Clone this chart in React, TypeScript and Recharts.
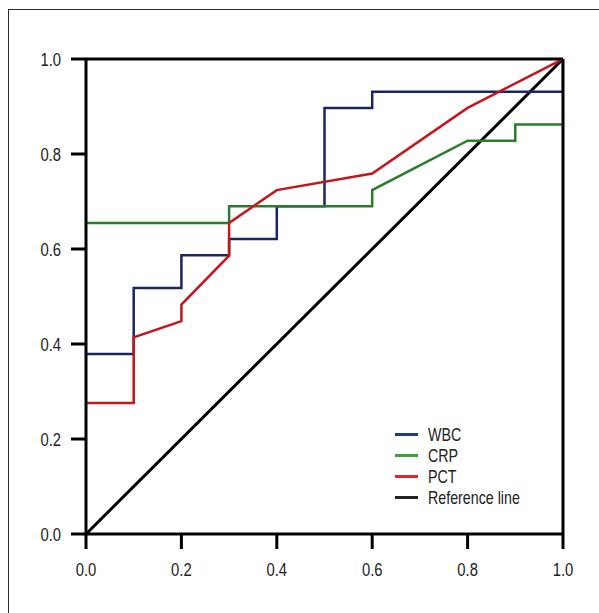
import { ComposedChart, Line, XAxis, YAxis, ReferenceLine } from 'recharts';

// ROC curves (1 - specificity on x, sensitivity on y)
const wbcX = [0, 0.1, 0.1, 0.2, 0.2, 0.3, 0.3, 0.4, 0.4, 0.5, 0.5, 0.6, 0.6, 1.0, 1.0];
const wbcY = [0.379, 0.379, 0.518, 0.518, 0.587, 0.587, 0.621, 0.621, 0.69, 0.69, 0.897, 0.897, 0.931, 0.931, 1.0];

const crpX = [0, 0.3, 0.3, 0.6, 0.6, 0.8, 0.9, 0.9, 1.0];
const crpY = [0.655, 0.655, 0.69, 0.69, 0.724, 0.828, 0.828, 0.862, 0.862];

const pctX = [0, 0.1, 0.1, 0.2, 0.2, 0.3, 0.3, 0.4, 0.6, 0.8, 1.0];
const pctY = [0.276, 0.276, 0.414, 0.448, 0.483, 0.586, 0.655, 0.724, 0.759, 0.897, 1.0];

const refX = [0, 1];
const refY = [0, 1];

const ticks = [0, 0.2, 0.4, 0.6, 0.8, 1.0];

const legendItems = [
  { name: 'WBC', color: '#1e3f73' },
  { name: 'CRP', color: '#3f9f3f' },
  { name: 'PCT', color: '#e8222a' },
  { name: 'Reference line', color: '#222' },
];

const toPoints = (xs: number[], ys: number[]) => xs.map((x, i) => ({ x, y: ys[i] }));

// no condensed font installed, so squeeze Liberation Sans horizontally
const FONT = "'Liberation Sans', Arial, sans-serif";

const XTick = (props: any) => {
  const { x, y, payload } = props;
  return (
    <text
      transform={`translate(${x},${y + 19}) scale(0.78,1)`}
      textAnchor="middle"
      fill="#222"
      fontSize={19}
      fontFamily={FONT}
    >
      {Number(payload.value).toFixed(1)}
    </text>
  );
};

const YTick = (props: any) => {
  const { x, y, payload } = props;
  return (
    <text
      transform={`translate(${x},${y + 7}) scale(0.78,1)`}
      textAnchor="end"
      fill="#222"
      fontSize={19}
      fontFamily={FONT}
    >
      {Number(payload.value).toFixed(1)}
    </text>
  );
};

const renderLegend = () => (
  <div style={{ fontFamily: FONT, fontSize: 19, color: '#222' }}>
    {legendItems.map(item => (
      <div key={item.name} style={{ display: 'flex', alignItems: 'center', height: 21 }}>
        <span style={{ display: 'inline-block', width: 23, height: 3, background: item.color, marginRight: 10 }} />
        <span style={{ display: 'inline-block', transform: 'scaleX(0.75)', transformOrigin: 'left center', whiteSpace: 'nowrap' }}>
          {item.name}
        </span>
      </div>
    ))}
  </div>
);

export default function App() {
  return (
    <div>
      <div
        style={{
          position: 'absolute',
          left: 8,
          top: 9,
          width: 591,
          height: 604,
          borderLeft: '1px solid #2b2b2b',
          borderTop: '1px solid #2b2b2b',
          boxSizing: 'border-box',
        }}
      />
      <div style={{ position: 'absolute', left: 0, top: 0 }}>
        <ComposedChart
          width={599}
          height={613}
          margin={{ top: 59, right: 36, left: 56, bottom: 39 }}
        >
          <XAxis
            type="number"
            dataKey="x"
            domain={[0, 1]}
            ticks={ticks}
            height={40}
            stroke="#000"
            strokeWidth={3}
            tickSize={15}
            tickMargin={8}
            tick={<XTick />}
            allowDataOverflow
          />
          <YAxis
            type="number"
            dataKey="y"
            domain={[0, 1]}
            ticks={ticks}
            width={30}
            stroke="#000"
            strokeWidth={3}
            tickSize={15}
            tickMargin={10}
            tick={<YTick />}
            allowDataOverflow
          />
          <Line
            data={toPoints(refX, refY)}
            dataKey="y"
            type="linear"
            stroke="#000"
            strokeWidth={3}
            dot={false}
            isAnimationActive={false}
            name="Reference line"
          />
          <Line
            data={toPoints(wbcX, wbcY)}
            dataKey="y"
            type="linear"
            stroke="#1a2660"
            strokeWidth={2.5}
            dot={false}
            isAnimationActive={false}
            name="WBC"
          />
          <Line
            data={toPoints(crpX, crpY)}
            dataKey="y"
            type="linear"
            stroke="#2a7d2e"
            strokeWidth={2.5}
            dot={false}
            isAnimationActive={false}
            name="CRP"
          />
          <Line
            data={toPoints(pctX, pctY)}
            dataKey="y"
            type="linear"
            stroke="#c4161c"
            strokeWidth={2.5}
            dot={false}
            isAnimationActive={false}
            name="PCT"
          />
          <ReferenceLine y={1} stroke="#000" strokeWidth={3} zIndex={1000} />
          <ReferenceLine x={1} stroke="#000" strokeWidth={3} zIndex={1000} />
        </ComposedChart>
        <div style={{ position: 'absolute', left: 395, top: 424 }}>{renderLegend()}</div>
      </div>
    </div>
  );
}
